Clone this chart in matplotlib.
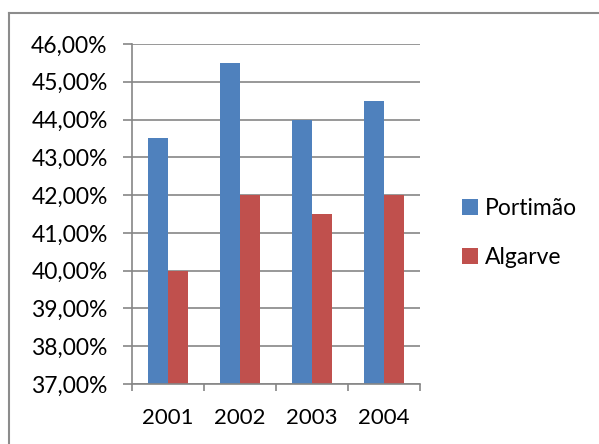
import numpy as np
import matplotlib
matplotlib.use("Agg")
import matplotlib.pyplot as plt
from matplotlib.lines import Line2D
from matplotlib.ticker import FuncFormatter, FixedLocator

years = ["2001", "2002", "2003", "2004"]
portimao = [43.5, 45.5, 44.0, 44.5]
algarve = [40.0, 42.0, 41.5, 42.0]
y_min, y_max = 37, 46

plt.rcParams['font.family'] = ['Lato', 'DejaVu Sans']

W, H = 599, 444
fig = plt.figure(figsize=(W / 100, H / 100), dpi=100)
ax = fig.add_axes([132 / W, 1 - 384 / H, (420 - 132) / W, (384 - 44) / H])

grid_color = "#868686"
x = np.arange(len(years))
bw = 0.278
ax.bar(x - bw / 2, portimao, bw, color="#4F81BD", label="Portimão", zorder=3)
ax.bar(x + bw / 2, algarve, bw, color="#C0504D", label="Algarve", zorder=3)

ax.set_xlim(-0.5, len(years) - 0.5)
ax.set_ylim(y_min, y_max)
ax.set_yticks(np.arange(y_min, y_max + 1, 1))
ax.yaxis.set_major_formatter(FuncFormatter(lambda v, p: f"{v:.2f}".replace(".", ",") + "%"))
ax.grid(axis="y", color=grid_color, linewidth=1.2, zorder=0)

ax.set_xticks(x)
ax.set_xticklabels(years)
ax.xaxis.set_minor_locator(FixedLocator(np.arange(-0.5, len(years), 1)))
ax.tick_params(axis="x", which="major", length=0, pad=17, labelsize=16)
ax.tick_params(axis="x", which="minor", length=5, width=1.2, color=grid_color)
ax.tick_params(axis="y", length=6.5, width=1.2, color=grid_color, labelsize=16.5, pad=11)

for s in ["top", "right"]:
    ax.spines[s].set_visible(False)
for s in ["left", "bottom"]:
    ax.spines[s].set_color(grid_color)
    ax.spines[s].set_linewidth(1.2)
    ax.spines[s].set_zorder(4)

leg = fig.legend(loc="center left", bbox_to_anchor=(441 / W, 1 - 233 / H), frameon=False,
                 fontsize=16.5, handlelength=0.7, handleheight=0.7, handletextpad=0.3,
                 labelspacing=1.2)

# outer chart border (cropped at right and bottom)
fig.add_artist(Line2D([9 / W, 9 / W], [0, 1 - 13 / H], color="#8c8c8c", linewidth=1.5))
fig.add_artist(Line2D([9 / W, 1], [1 - 13 / H, 1 - 13 / H], color="#8c8c8c", linewidth=1.5))

fig.savefig("out.png", dpi=100)
